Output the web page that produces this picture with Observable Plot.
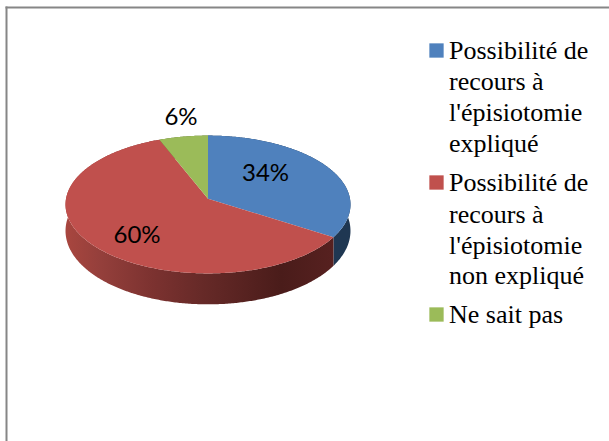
<!DOCTYPE html>
<html>
<head>
<meta charset="utf-8">
<script src="https://cdn.jsdelivr.net/npm/d3@7"></script>
<script src="https://cdn.jsdelivr.net/npm/@observablehq/plot@0.6"></script>
<style>html,body{margin:0;padding:0;background:#fff}svg{display:block;max-width:none}</style>
</head>
<body>
<div id="chart"></div>
<script>
// Data
const categories = ["Possibilité de\nrecours à\nl'épisiotomie\nexpliqué", "Possibilité de\nrecours à\nl'épisiotomie\nnon expliqué", "Ne sait pas"];
const values = [34, 60, 6];
const labels = ["34%", "60%", "6%"];
const topColors = ["#4F81BD", "#C0504D", "#9BBB59"];

// Chart layout (pie units: radius = 1)
const W = 609, H = 441, ML = 6, MT = 7;
const R = 142, CX = 207.5, CY = 198.3;
const persp = 0.0826, tilt = 0.482;
const project = (u, v) => [u / (1 - persp * v), tilt * v / (1 - persp * v)];
const drop = v => 0.183 + 0.035 * v;
const labelPos = [[0.405, -0.177], [-0.5, 0.26], [-0.19, -0.575]];
const legendY = [[50, 81, 112, 143], [182, 214, 245, 275], [314]];
const swatchY = [50, 182, 314];
const swatchX = 436, legendX = 448.5;

const arcs = d3.pie().sort(null).startAngle(0).endAngle(2 * Math.PI)(values);
const angles = a => {
  const n = Math.ceil((a.endAngle - a.startAngle) / 0.01);
  return d3.range(n + 1).map(i => a.startAngle + (a.endAngle - a.startAngle) * i / n);
};
const faces = [], wall = [];
arcs.forEach((a, k) => {
  faces.push({k, x: 0, y: 0});
  const list = angles(a);
  for (const t of list) {
    const [x, y] = project(Math.sin(t), -Math.cos(t));
    faces.push({k, x, y});
    wall.push({k, x, y});
  }
  for (const t of [...list].reverse()) {
    const v = -Math.cos(t);
    const [x, y] = project(Math.sin(t), v);
    wall.push({k, x, y: y + drop(v)});
  }
});

const wallStops = [[0, "#a8463f"], [0.13, "#943f3b"], [0.32, "#7c3230"], [0.5, "#672a28"], [0.8, "#4a1c1a"], [1, "#572120"]];
const wallFills = ["#1f3752", "url(#wallRed)", "#5e7034"];

const defs = () => {
  const d = d3.create("svg:defs");
  const g = d.append("linearGradient").attr("id", "wallRed")
    .attr("gradientUnits", "userSpaceOnUse")
    .attr("x1", CX - R).attr("x2", CX + 127).attr("y1", 0).attr("y2", 0);
  wallStops.forEach(([o, c]) => g.append("stop").attr("offset", o).attr("stop-color", c));
  return d.node();
};

const legendLines = [];
categories.forEach((c, k) => c.split("\n").forEach((line, i) => legendLines.push({line, py: legendY[k][i]})));

const chart = Plot.plot({
  width: W, height: H,
  marginLeft: ML, marginTop: MT, marginRight: 0, marginBottom: 0,
  style: {background: "#fff", overflow: "hidden"},
  x: {domain: [(ML - CX) / R, (W - CX) / R], range: [ML, W], axis: null},
  y: {domain: [(MT - CY) / R, (H - CY) / R], range: [MT, H], axis: null},
  marks: [
    defs,
    Plot.frame({anchor: "top", stroke: "#868686", strokeWidth: 2}),
    Plot.frame({anchor: "left", stroke: "#868686", strokeWidth: 2}),
    ...[2, 0, 1].map(k => Plot.line(wall.filter(d => d.k === k), {
      x: "x", y: "y", curve: "linear-closed", stroke: "none", fill: wallFills[k]
    })),
    ...[0, 1, 2].map(k => Plot.line(faces.filter(d => d.k === k), {
      x: "x", y: "y", curve: "linear-closed", stroke: "none", fill: topColors[k]
    })),
    Plot.text(labels.map((t, k) => ({t, x: labelPos[k][0], y: labelPos[k][1]})), {
      x: "x", y: "y", text: "t", fontFamily: "Lato", fontSize: 24, fill: "#000"
    }),
    ...swatchY.map((py, k) => Plot.dot([k], {
      frameAnchor: "top-left", symbol: "square", r: 8.07, stroke: "none",
      dx: swatchX - ML, dy: py - MT, fill: topColors[k]
    })),
    ...legendLines.map(d => Plot.text([d.line], {
      frameAnchor: "top-left", textAnchor: "start", lineAnchor: "middle",
      dx: legendX - ML, dy: d.py - MT,
      fontFamily: "'Liberation Serif', 'Times New Roman', serif", fontSize: 26, fill: "#000"
    }))
  ]
});
document.getElementById("chart").append(chart);
</script>
</body>
</html>
